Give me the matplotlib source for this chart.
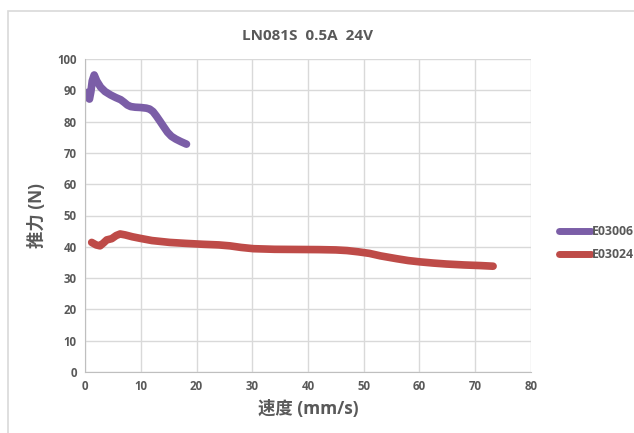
import matplotlib
matplotlib.use("Agg")
import matplotlib.pyplot as plt
from matplotlib.patches import Rectangle

plt.rcParams['font.family'] = ['Open Sans', 'Noto Sans CJK SC', 'DejaVu Sans']

# E03006 (purple)
x1 = [0.35, 0.55, 0.8, 1.05, 1.3, 1.65, 2.1, 2.8, 3.6, 4.6, 5.5, 6.4, 7.0, 7.6, 8.2, 9.0,
      10.0, 11.0, 11.6, 12.2, 12.8, 13.5, 14.1, 14.8, 15.5, 16.3, 17.2, 18.2]
y1 = [89.3, 87.6, 87.2, 89.5, 93.0, 94.9, 93.0, 91.0, 89.6, 88.5, 87.7, 87.0, 86.2, 85.3, 84.8, 84.6,
      84.5, 84.3, 84.0, 83.2, 81.8, 80.0, 78.4, 76.6, 75.3, 74.4, 73.6, 72.8]

# E03024 (red)
x2 = [1.2, 2.0, 2.7, 3.3, 3.9, 4.8, 5.6, 6.3, 7.2, 8.5, 9.9, 12.0, 15.2, 18.0, 21.2, 24.0, 26.0,
      28.0, 30.2, 34.0, 38.0, 42.0, 45.0, 47.0, 49.0, 51.0, 53.0, 55.9, 58.0, 60.0, 62.5, 64.8,
      68.0, 71.0, 73.2]
y2 = [41.4, 40.6, 40.3, 41.2, 42.2, 42.6, 43.6, 44.1, 43.8, 43.2, 42.7, 42.0, 41.4, 41.1, 40.8,
      40.6, 40.3, 39.8, 39.4, 39.2, 39.15, 39.1, 39.0, 38.8, 38.4, 37.9, 37.1, 36.2, 35.6, 35.2,
      34.8, 34.5, 34.2, 34.0, 33.8]

names = ['E03006', 'E03024']
colors = ['#7B5EA7', '#BE4B48']
grey = '#595959'

fig = plt.figure(figsize=(6.34, 4.33), dpi=100)
fig.patches.append(Rectangle((8 / 634, -0.1), 1.1, (433 - 11) / 433 + 0.1,
                             transform=fig.transFigure, fill=False,
                             edgecolor='#D9D9D9', lw=1.2))
ax = fig.add_axes([85 / 634, (433 - 372) / 433, 446 / 634, 313 / 433])

ax.plot(x1, y1, color=colors[0], lw=5.5, solid_capstyle='round',
        solid_joinstyle='round', label=names[0])
ax.plot(x2, y2, color=colors[1], lw=5.5, solid_capstyle='round',
        solid_joinstyle='round', label=names[1])

ax.set_xlim(0, 80)
ax.set_ylim(0, 100)
ax.set_xticks(range(0, 81, 10))
ax.set_yticks(range(0, 101, 10))
ax.grid(True, color='#D9D9D9', lw=1)
ax.set_axisbelow(True)
for s in ['top', 'right']:
    ax.spines[s].set_visible(False)
for s in ['left', 'bottom']:
    ax.spines[s].set_color('#BFBFBF')
ax.tick_params(length=0, colors=grey, labelsize=8.3, pad=6)
for lab in ax.get_xticklabels() + ax.get_yticklabels():
    lab.set_fontweight('bold')

ax.set_title('LN081S  0.5A  24V', color=grey, fontsize=11, fontweight='bold', pad=14)
ax.set_xlabel('速度 (mm/s)', color=grey, fontsize=12.5, fontweight='bold', labelpad=5)
ax.set_ylabel('推力 (N)', color=grey, fontsize=12.5, fontweight='bold', labelpad=8)

leg = fig.legend(loc='center left', bbox_to_anchor=(548 / 634, 1 - 243 / 433),
                 frameon=False, fontsize=8.8, handlelength=2.6, handletextpad=0.1,
                 labelspacing=0.8, labelcolor=grey)
for t in leg.get_texts():
    t.set_fontweight('bold')
for h in leg.get_lines():
    h.set_linewidth(5)

fig.savefig('out.png', dpi=100)
